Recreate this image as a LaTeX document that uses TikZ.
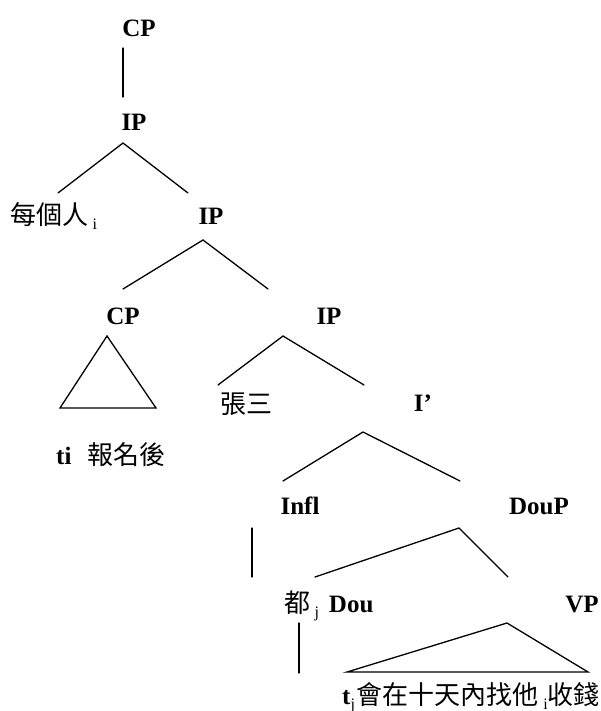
\documentclass[tikz,border=0pt]{standalone}
\usepackage{fontspec}
\setmainfont{Liberation Serif}
\newfontfamily\labfont{Liberation Serif}
\newfontfamily\cjk{Noto Sans CJK TC}
\newcommand\subidx[1]{\raisebox{-5pt}{\fontsize{16}{16}\selectfont\rmfamily #1}}
\newcommand\latn[1]{{\labfont\bfseries\fontsize{25}{25}\selectfont #1}}
\tikzset{
  lbl/.style={font=\labfont\bfseries\fontsize{25}{25}\selectfont, inner sep=0pt},
  zh/.style={font=\cjk\fontsize{26}{26}\selectfont, inner sep=0pt},
  br/.style={line width=1.3pt, line cap=round, line join=miter},
}
\begin{document}
\begin{tikzpicture}[x=1pt,y=-1pt]
\path[use as bounding box, fill=white] (0,0) rectangle (601,711);
% labels
\node[lbl] (cp1) at (139,28) {CP};
\node[lbl] (ip1) at (134,122) {IP};
\node[zh, anchor=base west] (mgr) at (10,225) {每個人\,\subidx{i}};
\node[lbl] (ip2) at (211,216) {IP};
\node[lbl] (cp2) at (123,316) {CP};
\node[lbl] (ip3) at (329,316) {IP};
\node[zh, anchor=base west] (ti) at (56,464) {\latn{ti}\hspace{16pt}報名後};
\node[zh, anchor=base] (zs) at (246,413) {張三};
\node[lbl] (ibar) at (423,403) {I’};
\node[lbl] (infl) at (300,506) {Infl};
\node[lbl] (doup) at (539,506) {DouP};
\node[zh, anchor=base west] (dou) at (284,612) {都\,\subidx{j}\hspace{10pt}\latn{Dou}};
\node[lbl] (vp) at (582,604) {VP};
\node[zh, anchor=base west] (bot) at (342,704) {\latn{t}\subidx{j}\hspace{2pt}會在十天內找他\,\subidx{i}收錢};
% branch points
\coordinate (cp1b) at (123,48);
\coordinate (ip1t) at (123,97);
\coordinate (ip1b) at (123,143);
\coordinate (mgrt) at (58,193);
\coordinate (ip2t) at (188,193);
\coordinate (ip2b) at (203,240);
\coordinate (cp2t) at (123,289);
\coordinate (ip3t) at (268,289);
\coordinate (cp2a) at (107,336);
\coordinate (cp2l) at (60,408);
\coordinate (cp2r) at (156,408);
\coordinate (ip3b) at (283,336);
\coordinate (zst) at (218,385);
\coordinate (ibart) at (364,385);
\coordinate (ibarb) at (363,432);
\coordinate (inflt) at (283,481);
\coordinate (doupt) at (460,481);
\coordinate (inflb) at (252,528);
\coordinate (dout) at (252,577);
\coordinate (doupb) at (459,528);
\coordinate (douh) at (315,577);
\coordinate (vpt) at (508,577);
\coordinate (doub) at (299,623);
\coordinate (doue) at (299,673);
\coordinate (vpa) at (507,623);
\coordinate (vpl) at (347,672);
\coordinate (vpr) at (588,672);
% connectors
\draw[br] (cp1b) -- (ip1t);
\draw[br] (mgrt) -- (ip1b) -- (ip2t);
\draw[br] (cp2t) -- (ip2b) -- (ip3t);
\draw[br] (cp2a) -- (cp2l) -- (cp2r) -- cycle;
\draw[br] (zst) -- (ip3b) -- (ibart);
\draw[br] (inflt) -- (ibarb) -- (doupt);
\draw[br] (inflb) -- (dout);
\draw[br] (douh) -- (doupb) -- (vpt);
\draw[br] (doub) -- (doue);
\draw[br] (vpa) -- (vpl) -- (vpr) -- cycle;
\end{tikzpicture}
\end{document}
